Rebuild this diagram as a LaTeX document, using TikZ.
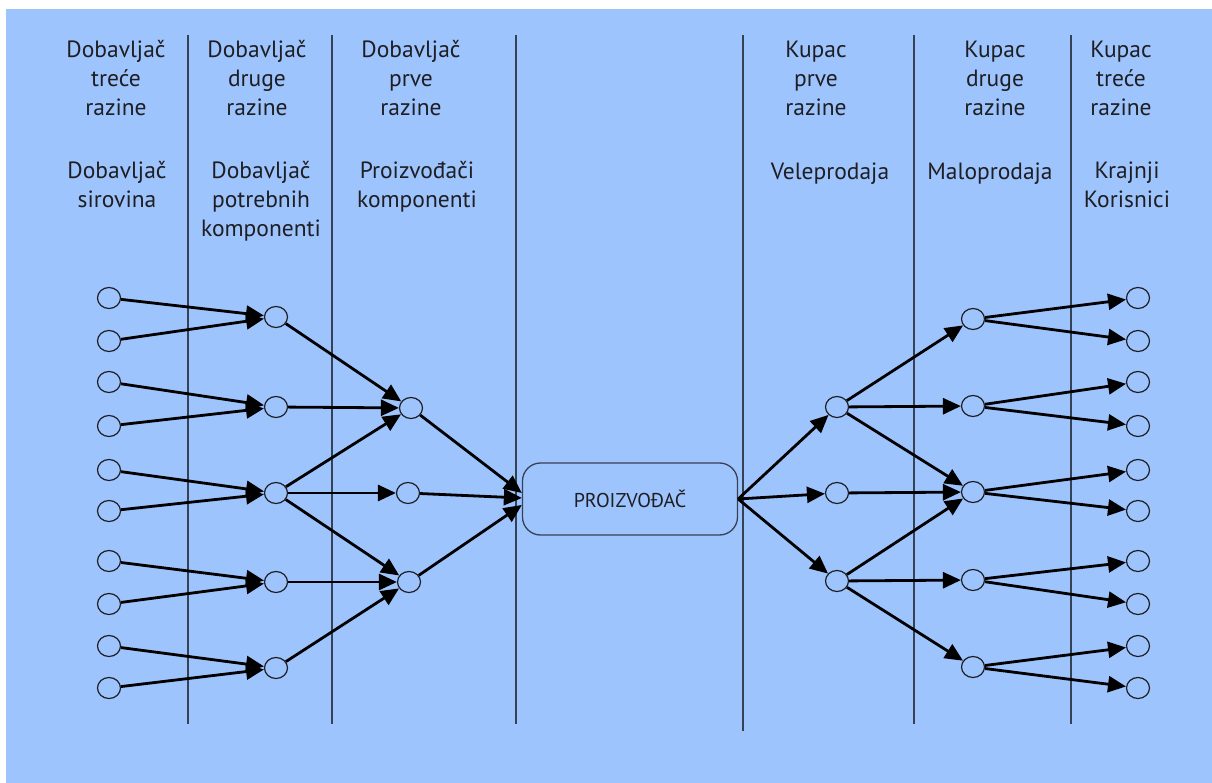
\documentclass[tikz,border=0pt]{standalone}
\usepackage{fontspec}
\setmainfont{PT Sans}
\usetikzlibrary{arrows.meta,shapes.geometric}
\definecolor{bgblue}{RGB}{158,196,253}
\definecolor{rulec}{RGB}{55,65,85}
\definecolor{txt}{RGB}{30,30,35}
\begin{document}
\begin{tikzpicture}[x=1pt,y=-1pt,
  dot/.style={ellipse,draw=txt,line width=1.2pt,minimum width=23pt,minimum height=21pt,inner sep=0pt},
  flow/.style={line width=2.8pt,-{Triangle[length=18pt,width=16pt]}},
  sepline/.style={draw=rulec,line width=1.4pt},
  lbl/.style={font=\fontsize{23.5}{29}\selectfont,align=center,anchor=base,inner sep=0pt,text=txt}]
\useasboundingbox (0,0) rectangle (1212,783);
\fill[white] (0,0) rectangle (1212,783);
\fill[bgblue] (6,9) rectangle (1212,783);
% separators
\draw[sepline] (188,35) -- (188,724);
\draw[sepline] (332,35) -- (332,724);
\draw[sepline] (516,35) -- (516,724);
\draw[sepline] (743,35) -- (743,731);
\draw[sepline] (914,35) -- (914,724);
\draw[sepline] (1071,35) -- (1071,724);
% labels (anchor = baseline of last line)
\node[lbl] (h1) at (116,116) {Dobavljač\\treće\\razine};
\node[lbl] (s1) at (117,208) {Dobavljač\\sirovina};
\node[lbl] (h2) at (257,116) {Dobavljač\\druge\\razine};
\node[lbl] (s2) at (261,237) {Dobavljač\\potrebnih\\komponenti};
\node[lbl] (h3) at (411,116) {Dobavljač\\prve\\razine};
\node[lbl] (s3) at (417,208) {Proizvođači\\komponenti};
\node[lbl] (h4) at (816,116) {Kupac\\prve\\razine};
\node[lbl] (s4) at (830,180) {Veleprodaja};
\node[lbl] (h5) at (995,116) {Kupac\\druge\\razine};
\node[lbl] (s5) at (990,180) {Maloprodaja};
\node[lbl] (h6) at (1121,116) {Kupac\\treće\\razine};
\node[lbl] (s6) at (1127,208) {Krajnji\\Korisnici};
% producer
\node[draw=rulec,line width=1.3pt,rounded corners=18pt,minimum width=215pt,minimum height=72pt,
  font=\fontsize{20}{24}\selectfont,text=txt] (P) at (630,499) {PROIZVOĐAČ};
% dots
\foreach \y [count=\i] in {298,341,382,426,470,511,561,604,646,688}{
  \node[dot] (A\i) at (109,\y) {};
  \node[dot] (F\i) at (1138,\y) {};
}
\foreach \y [count=\i] in {317,407,493,582,668}{
  \node[dot] (B\i) at (276,\y) {};
}
\foreach \y [count=\i] in {319,406,492,580,667}{
  \node[dot] (E\i) at (973,\y) {};
}
\node[dot] (C1) at (411,408) {};
\node[dot] (C2) at (408,493) {};
\node[dot] (C3) at (409,582) {};
\node[dot] (D1) at (837,407) {};
\node[dot] (D2) at (837,493) {};
\node[dot] (D3) at (837,581) {};
% left edges
\foreach \a/\b in {1/1,2/1,3/2,4/2,5/3,6/3,7/4,8/4,9/5,10/5}{
  \draw[flow] (A\a) -- (B\b);
}
\foreach \a/\b in {1/1,2/1,3/1,3/2,3/3,4/3,5/3}{
  \draw[flow] (B\a) -- (C\b);
}
\draw[flow] (C1) -- ([yshift=6pt]P.west);
\draw[flow] (C2) -- ([yshift=1pt]P.west);
\draw[flow] (C3) -- ([yshift=-6pt]P.west);
% right edges
\draw[flow] (P.east) -- (D1);
\draw[flow] (P.east) -- (D2);
\draw[flow] (P.east) -- (D3);
\foreach \a/\b in {1/1,1/2,1/3,2/3,3/3,3/4,3/5}{
  \draw[flow] (D\a) -- (E\b);
}
\foreach \a/\b in {1/1,1/2,2/3,2/4,3/5,3/6,4/7,4/8,5/9,5/10}{
  \draw[flow] (E\a) -- (F\b);
}
\end{tikzpicture}
\end{document}
